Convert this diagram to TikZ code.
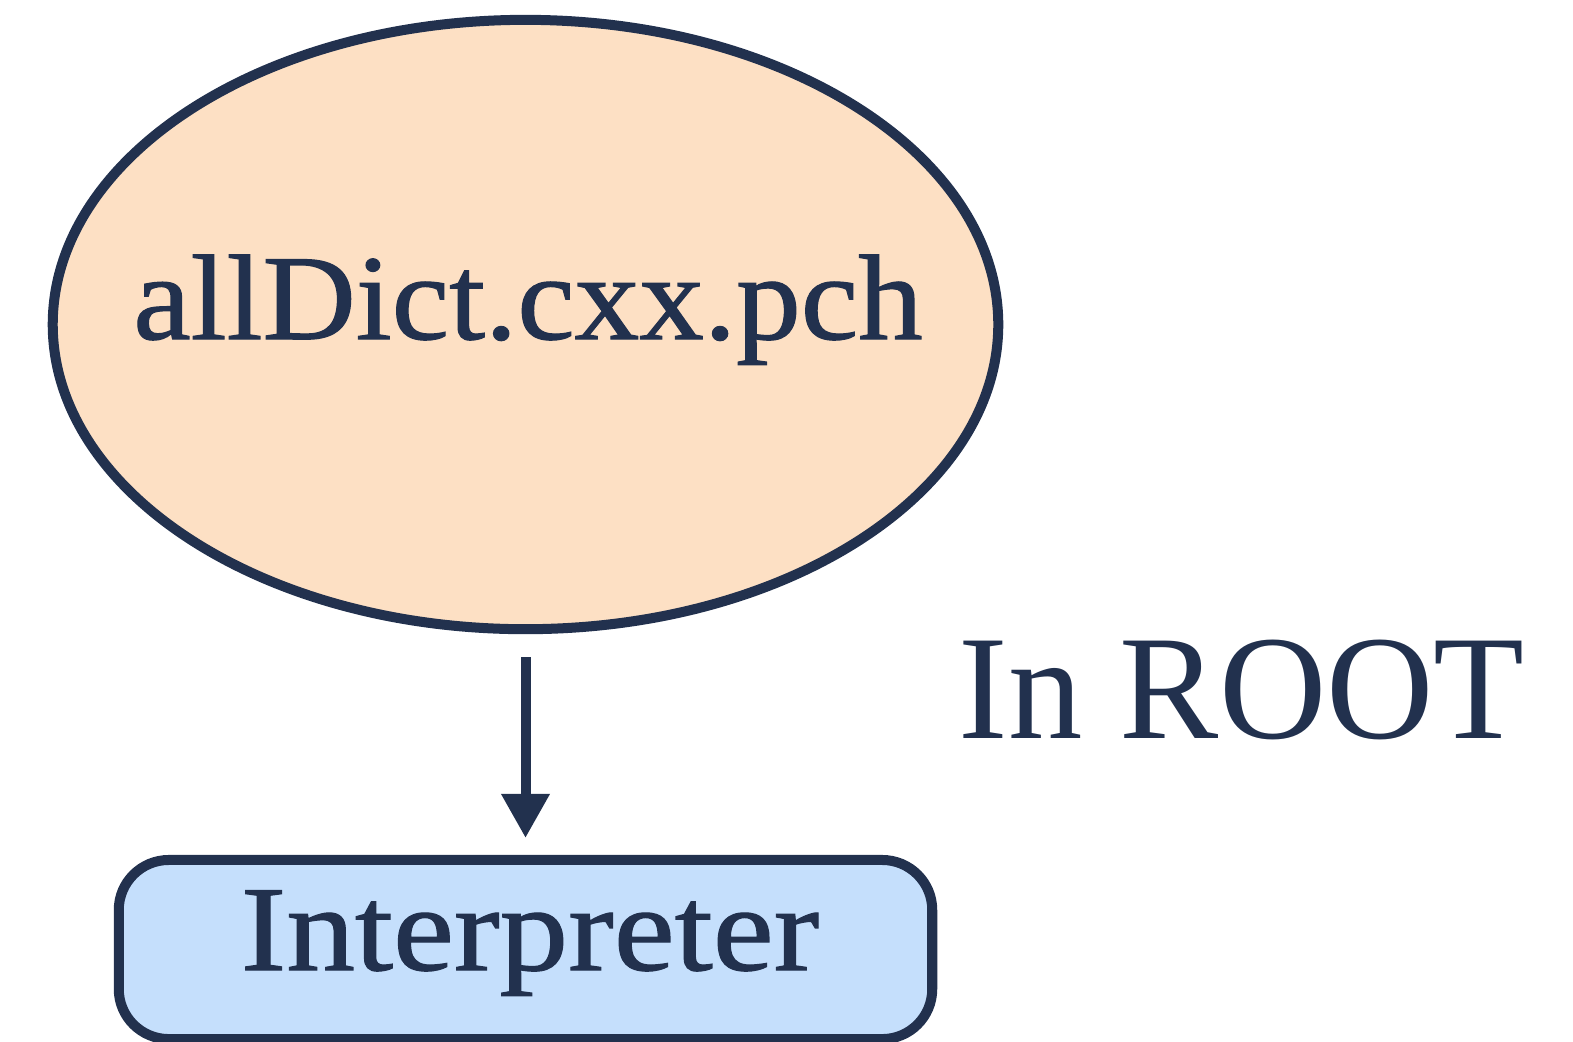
\documentclass[tikz,border=0pt]{standalone}
\usepackage{fontspec}
\setmainfont{Liberation Serif}
\usetikzlibrary{shapes.geometric,arrows.meta}
\definecolor{inkblue}{HTML}{22314E}
\definecolor{peach}{HTML}{FDE0C4}
\definecolor{skyfill}{HTML}{C5DFFC}
\tikzset{
  filebox/.style={ellipse, draw=inkblue, fill=peach, line width=0.1cm,
    minimum width=9.45cm, minimum height=6.09cm, inner sep=0pt},
  stagebox/.style={rectangle, rounded corners=0.5cm, draw=inkblue, fill=skyfill,
    line width=0.1cm, minimum width=8.13cm, minimum height=1.79cm, inner sep=0pt},
  flow/.style={draw=inkblue, line width=0.1cm,
    -{Triangle[width=0.46cm,length=0.44cm]}},
  labeltext/.style={text=inkblue, inner sep=0pt}
}
\begin{document}
\begin{tikzpicture}[x=0.01cm,y=-0.01cm]
  \useasboundingbox (0,0) rectangle (1573,1041);
  % precompiled header file
  \node[filebox] (pch) at (525.5,324.5) {};
  \node[labeltext, anchor=base] (pchname) at (528,339)
    {\fontsize{34.5pt}{40pt}\selectfont\addfontfeature{FakeStretch=1.065,FakeBold=1}allDict.cxx.pch};
  % interpreter stage, running past the lower edge
  \node[stagebox] (interp) at (525.5,949.5) {};
  \node[labeltext, anchor=base] (interpname) at (530,970)
    {\fontsize{34.5pt}{40pt}\selectfont\addfontfeature{FakeStretch=1.13,FakeBold=1}Interpreter};
  % side caption
  \node[labeltext, anchor=base west] (rootcap) at (958,738)
    {\fontsize{42.3pt}{50pt}\selectfont In ROOT};
  % loading step
  \draw[flow, shorten <=0.23cm, shorten >=0.17cm] (pch) -- (interp);
\end{tikzpicture}
\end{document}
